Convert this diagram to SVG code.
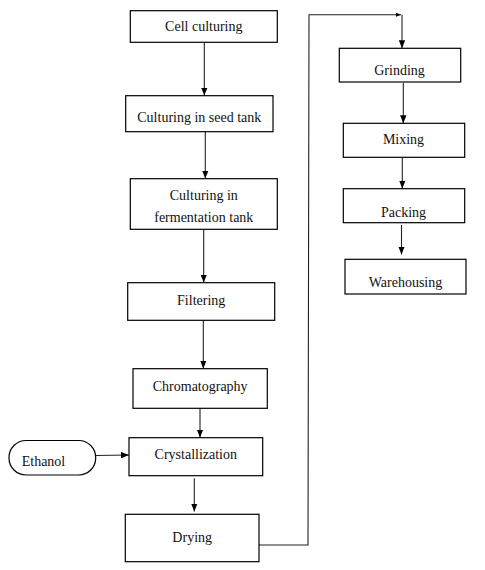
<svg xmlns="http://www.w3.org/2000/svg" width="485" height="570" viewBox="0 0 485 570">
<defs>
<marker id="arr" viewBox="0 0 10 8" refX="10" refY="4" markerWidth="8" markerHeight="6.4" markerUnits="userSpaceOnUse" orient="auto">
<path d="M0,0 L10,4 L0,8 Z" fill="#000"/>
</marker>
<marker id="arrs" viewBox="0 0 10 8" refX="10" refY="4" markerWidth="5" markerHeight="4" markerUnits="userSpaceOnUse" orient="auto">
<path d="M0,0 L10,4 L0,8 Z" fill="#000"/>
</marker>
</defs>
<style>
.box{fill:#fff;stroke:#000;stroke-width:1.2}
.t{font-family:"Liberation Serif","Times New Roman",serif;font-size:14px;fill:#111;text-anchor:middle}
.c{fill:none;stroke:#222;stroke-width:1.1}
</style>
<rect width="485" height="570" fill="#fff"/>
<g id="connectors">
<line class="c" x1="204.3" y1="42.3" x2="204.3" y2="95.5" marker-end="url(#arr)"/>
<line class="c" x1="205.3" y1="131.7" x2="205.3" y2="178.5" marker-end="url(#arr)"/>
<line class="c" x1="203.7" y1="229.3" x2="203.7" y2="282.5" marker-end="url(#arr)"/>
<line class="c" x1="203.3" y1="320.3" x2="203.3" y2="368.5" marker-end="url(#arr)"/>
<line class="c" x1="200" y1="408.3" x2="200" y2="437.5" marker-end="url(#arr)"/>
<line class="c" x1="194.3" y1="478.3" x2="194.3" y2="511.5" marker-end="url(#arr)"/>
<line class="c" x1="95.7" y1="455.5" x2="129" y2="455" marker-end="url(#arr)"/>
<polyline class="c" points="259,545 308,545 309,14.7 401,14.7" marker-end="url(#arrs)"/>
<line class="c" x1="402" y1="14.7" x2="402" y2="48.2" marker-end="url(#arr)"/>
<line class="c" x1="403.3" y1="83" x2="403.3" y2="123.2" marker-end="url(#arr)"/>
<line class="c" x1="402.3" y1="158" x2="402.3" y2="188.5" marker-end="url(#arr)"/>
<line class="c" x1="401.5" y1="225" x2="401.5" y2="254.5" marker-end="url(#arr)"/>
</g>
<g id="cell">
<rect class="box" x="130.3" y="10.7" width="147" height="31.6"/>
<text class="t" x="203.8" y="31">Cell culturing</text>
</g>
<g id="seed">
<rect class="box" x="125.7" y="95.7" width="147.3" height="36"/>
<text class="t" x="199.3" y="122.3">Culturing in seed tank</text>
</g>
<g id="ferm">
<rect class="box" x="130.3" y="178.7" width="147" height="50.6"/>
<text class="t" x="203.8" y="200">Culturing in</text>
<text class="t" x="203.8" y="222">fermentation tank</text>
</g>
<g id="filter">
<rect class="box" x="127.7" y="282.7" width="147" height="37.6"/>
<text class="t" x="201.2" y="305">Filtering</text>
</g>
<g id="chrom">
<rect class="box" x="133" y="368.7" width="134.3" height="39.6"/>
<text class="t" x="200.2" y="391">Chromatography</text>
</g>
<g id="cryst">
<rect class="box" x="129" y="437.7" width="133.7" height="38"/>
<text class="t" x="195.8" y="459.3">Crystallization</text>
</g>
<g id="ethanol">
<rect class="box" x="9" y="440.5" width="86.7" height="34.5" rx="17" ry="17"/>
<text class="t" x="43.5" y="465.7">Ethanol</text>
</g>
<g id="drying">
<rect class="box" x="125.3" y="514.3" width="133.7" height="47.4"/>
<text class="t" x="192.2" y="541.7">Drying</text>
</g>
<g id="grinding">
<rect class="box" x="339.3" y="48.3" width="121.4" height="33.7"/>
<text class="t" x="399.5" y="75">Grinding</text>
</g>
<g id="mixing">
<rect class="box" x="343.3" y="123.3" width="121.4" height="34"/>
<text class="t" x="403.5" y="144.3">Mixing</text>
</g>
<g id="packing">
<rect class="box" x="343.3" y="188.7" width="121.4" height="34"/>
<text class="t" x="403.5" y="216.7">Packing</text>
</g>
<g id="warehousing">
<rect class="box" x="345" y="259.3" width="121" height="34.7"/>
<text class="t" x="405.5" y="286.7">Warehousing</text>
</g>
</svg>
